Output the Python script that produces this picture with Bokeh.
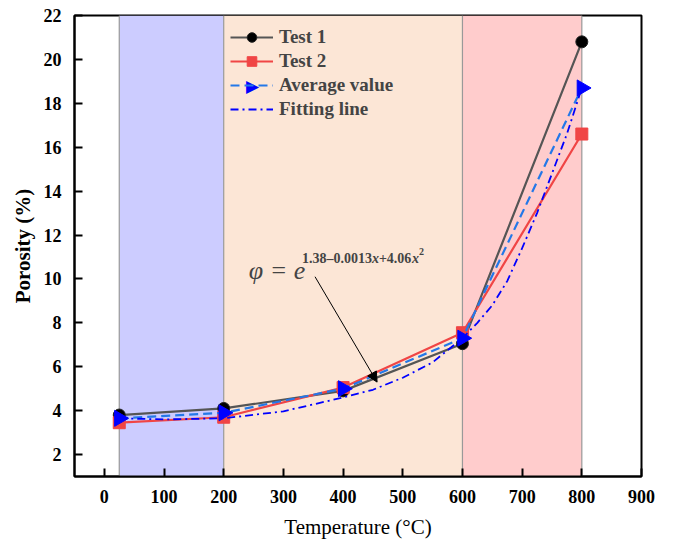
import math
from bokeh.plotting import figure
from bokeh.models import Range1d, Span, BoxAnnotation, Label, Arrow, NormalHead, Legend, LegendItem, FixedTicker
from bokeh.embed import file_html
from bokeh.resources import INLINE

# ---- data ----
temperature = [25, 200, 400, 600, 800]
test1 = [3.8, 4.1, 4.9, 7.05, 20.8]
test2 = [3.45, 3.7, 5.05, 7.55, 16.6]
average = [3.65, 3.9, 5.0, 7.3, 18.7]

fit_temperature = [25, 100, 200, 300, 400, 450, 500, 550, 600, 625, 650, 675, 700, 725, 750, 775, 800]
fit_porosity = [3.65, 3.6, 3.65, 3.97, 4.6, 4.95, 5.5, 6.2, 7.3, 8.0, 8.8, 9.9, 11.4, 13.0, 14.8, 16.6, 18.7]

region_start = [25, 200, 600]
region_end = [200, 600, 800]
region_colors = ["#ccccff", "#fce6d6", "#ffcccc"]
boundaries = [25, 200, 600, 800]

x_ticks = [0, 100, 200, 300, 400, 500, 600, 700, 800, 900]
y_ticks = [2, 4, 6, 8, 10, 12, 14, 16, 18, 20, 22]

FONT = "Liberation Serif"

p = figure(width=675, height=543, x_range=Range1d(-50, 900), y_range=Range1d(1, 22),
           output_backend="svg", toolbar_location=None,
           min_border_left=74, min_border_right=34, min_border_top=15, min_border_bottom=67)
p.background_fill_color = "white"
p.border_fill_color = "white"
p.xgrid.visible = False
p.ygrid.visible = False
p.outline_line_color = "black"
p.outline_line_width = 2

# shaded regions
for s, e, c in zip(region_start, region_end, region_colors):
    p.add_layout(BoxAnnotation(left=s, right=e, fill_color=c, fill_alpha=1.0, line_alpha=0, level="underlay"))
for b in boundaries:
    p.add_layout(Span(location=b, dimension="height", line_color="#999999", line_width=1.2, level="underlay"))

# series
l1 = p.line(temperature, test1, line_color="#555555", line_width=2.2)
m1 = p.scatter(temperature, test1, marker="circle", size=12, fill_color="black", line_color="#222222")
l2 = p.line(temperature, test2, line_color="#f04545", line_width=2.2)
m2 = p.scatter(temperature, test2, marker="square", size=12, fill_color="#f04545", line_color="#f04545")
l3 = p.line(temperature, average, line_color="#2478e8", line_width=2.2, line_dash="9 5")
m3 = p.scatter(temperature, average, marker="triangle", size=16, angle=-math.pi / 2,
               fill_color="#0000ff", line_color="#0000ff")
l4 = p.line(fit_temperature, fit_porosity, line_color="#0000ff", line_width=1.8, line_dash="8 4 2 4")

legend = Legend(items=[
    LegendItem(label="Test 1", renderers=[l1, m1]),
    LegendItem(label="Test 2", renderers=[l2, m2]),
    LegendItem(label="Average value", renderers=[l3]),
    LegendItem(label="Fitting line", renderers=[l4]),
], location=(152, 351))
legend.background_fill_alpha = 0
legend.border_line_alpha = 0
legend.padding = 4
legend.margin = 0
legend.spacing = 0
legend.glyph_width = 43
legend.glyph_height = 24
legend.label_height = 24
legend.label_standoff = 6
legend.label_text_font = FONT
legend.label_text_font_style = "bold"
legend.label_text_font_size = "19px"
p.add_layout(legend)

# right-pointing triangle for the "Average value" legend entry
p.add_layout(Label(x=178, y=391, x_units="screen", y_units="screen", text="▶",
                   text_font="DejaVu Sans", text_font_size="17px", text_color="#0000ff",
                   text_align="center", text_baseline="middle",
                   background_fill_color="#fce6d6", background_fill_alpha=1.0))

# annotation
p.add_layout(Arrow(end=NormalHead(size=10, fill_color="black", line_color="black"),
                   x_start=353, y_start=10.1, x_end=457, y_end=5.3,
                   line_color="black", line_width=1))
p.add_layout(Label(x=242, y=10.4, text="φ = e", text_font=FONT, text_font_style="italic",
                   text_font_size="26px", text_baseline="alphabetic", text_align="left"))
sx, sy = 331, 10.95
fs = 14
pieces = [("1.38–0.0013", "bold", 0), ("x", "bold italic", 70), ("+4.06", "bold", 77),
          ("x", "bold italic", 110)]
for t, st, off in pieces:
    p.add_layout(Label(x=sx, y=sy, x_offset=off, text=t, text_font=FONT, text_font_style=st,
                       text_font_size=f"{fs}px", text_baseline="alphabetic", text_align="left"))
p.add_layout(Label(x=sx, y=sy, x_offset=117, y_offset=7, text="2", text_font=FONT, text_font_style="bold",
                   text_font_size="10px", text_baseline="alphabetic", text_align="left"))

# axes
for ax in (p.xaxis[0], p.yaxis[0]):
    ax.axis_line_width = 2
    ax.axis_line_color = "black"
    ax.major_tick_line_width = 2
    ax.major_tick_in = 8
    ax.major_tick_out = 0
    ax.minor_tick_in = 0
    ax.minor_tick_out = 0
    ax.major_label_text_font = FONT
    ax.major_label_text_font_style = "bold"
    ax.major_label_text_font_size = "18px"
    ax.major_label_text_color = "black"
    ax.axis_label_text_font = FONT
    ax.axis_label_text_font_size = "21px"
    ax.axis_label_text_color = "black"

p.xaxis.ticker = FixedTicker(ticks=x_ticks)
p.yaxis.ticker = FixedTicker(ticks=y_ticks)
p.xaxis.axis_label = "Temperature (°C)"
p.xaxis.axis_label_text_font_style = "normal"
p.xaxis.major_label_standoff = 13
p.xaxis.axis_label_standoff = 9
p.yaxis.axis_label = "Porosity (%)"
p.yaxis.axis_label_text_font_style = "bold"
p.yaxis.major_label_standoff = 13
p.yaxis.axis_label_standoff = 6

open("out.html", "w").write(file_html(p, INLINE))
